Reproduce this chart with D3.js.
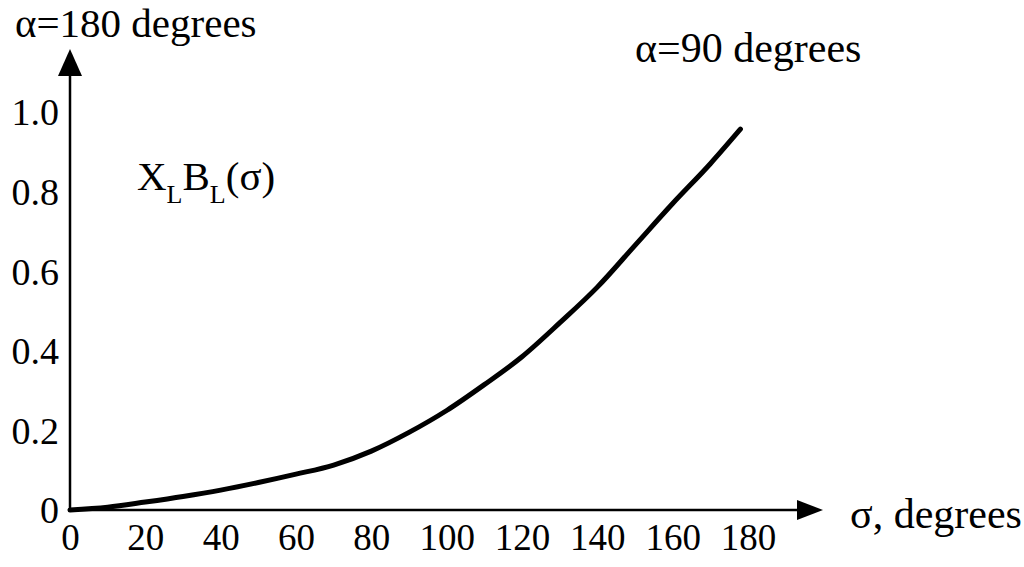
<!DOCTYPE html>
<html>
<head>
<meta charset="utf-8">
<script src="https://cdn.jsdelivr.net/npm/d3@7"></script>
<style>
  body { margin: 0; background: #fff; }
  svg { display: block; font-family: 'Liberation Serif', 'Times New Roman', serif; }
</style>
</head>
<body>
<script>
// sigma in degrees
const sigma = [0, 10, 20, 30, 40, 50, 60, 70, 80, 90, 100, 110, 120, 130, 140, 150, 160, 170, 178]
const xlbl = [0, 0.007, 0.02, 0.034, 0.05, 0.069, 0.09, 0.113, 0.148, 0.195, 0.25, 0.315, 0.385, 0.47, 0.56, 0.665, 0.77, 0.87, 0.957]

const xTicks = [0, 20, 40, 60, 80, 100, 120, 140, 160, 180]
const yTicks = [0, 0.2, 0.4, 0.6, 0.8, 1.0]

;(function () {
  const svg = d3.select('body').append('svg')
    .attr('width', 1024)
    .attr('height', 567)

  const x = d3.scaleLinear().domain([0, 180]).range([70, 748])
  const y = d3.scaleLinear().domain([0, 1]).range([510, 112])

  // x tick labels
  const xAxis = svg.append('g')
    .attr('transform', `translate(0,${y(0)})`)
    .call(d3.axisBottom(x).tickValues(xTicks).tickSize(0).tickPadding(12).tickFormat(d3.format('d')))
  xAxis.select('.domain').remove()
  xAxis.selectAll('text')
    .attr('font-size', 37)
    .attr('font-family', 'Liberation Serif')
    .attr('fill', '#000')
    .attr('dy', '0.75em')

  // y tick labels
  const yAxis = svg.append('g')
    .attr('transform', `translate(${x(0)},0)`)
    .call(d3.axisLeft(y).tickValues(yTicks).tickSize(0).tickPadding(11)
      .tickFormat(d => d === 0 ? '0' : d3.format('.1f')(d)))
  yAxis.select('.domain').remove()
  yAxis.selectAll('text')
    .attr('font-size', 38)
    .attr('font-family', 'Liberation Serif')
    .attr('fill', '#000')
    .attr('dy', '0.34em')

  // axis lines with arrow heads
  const x0 = x(0), y0 = y(0)
  svg.append('line')
    .attr('x1', x0).attr('y1', y0).attr('x2', 800).attr('y2', y0)
    .attr('stroke', '#000').attr('stroke-width', 2.5)
  svg.append('path')
    .attr('d', `M823,${y0} L797,${y0 - 10} L797,${y0 + 10} Z`)
    .attr('fill', '#000')
  svg.append('line')
    .attr('x1', x0).attr('y1', y0).attr('x2', x0).attr('y2', 72)
    .attr('stroke', '#000').attr('stroke-width', 2.5)
  svg.append('path')
    .attr('d', `M${x0},49 L${x0 - 12},76 L${x0 + 12},76 Z`)
    .attr('fill', '#000')

  // the curve
  const line = d3.line()
    .x((d, i) => x(sigma[i]))
    .y(d => y(d))
    .curve(d3.curveMonotoneX)

  svg.append('path')
    .datum(xlbl)
    .attr('d', line)
    .attr('fill', 'none')
    .attr('stroke', '#000')
    .attr('stroke-width', 5)
    .attr('stroke-linecap', 'round')

  // labels
  const label = (tx, ty, str, size) => svg.append('text')
    .attr('x', tx).attr('y', ty)
    .attr('font-size', size || 42)
    .attr('fill', '#000')
    .text(str)

  label(15, 37, 'α=180 degrees', 41)
  label(635, 62, 'α=90 degrees')
  label(850, 528, 'σ, degrees')

  const fn = svg.append('text')
    .attr('x', 137).attr('y', 190)
    .attr('font-size', 41)
    .attr('fill', '#000')
  fn.append('tspan').text('X')
  fn.append('tspan').attr('font-size', 26).attr('dy', 13).text('L')
  fn.append('tspan').attr('dy', -13).text('B')
  fn.append('tspan').attr('font-size', 26).attr('dy', 13).text('L')
  fn.append('tspan').attr('dy', -13).text('(σ)')
})()
</script>
</body>
</html>
